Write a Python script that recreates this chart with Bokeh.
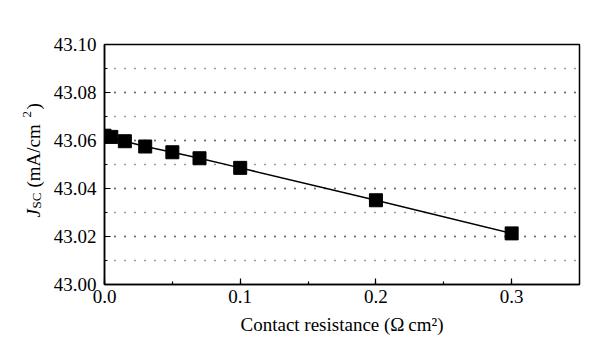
import math
from bokeh.plotting import figure
from bokeh.layouts import row
from bokeh.models import Range1d, SingleIntervalTicker, NumeralTickFormatter, Label
from bokeh.embed import file_html
from bokeh.resources import INLINE

# data
resistance = [0.0, 0.005, 0.015, 0.03, 0.05, 0.07, 0.1, 0.2, 0.3]
jsc = [43.0620, 43.0615, 43.0597, 43.0575, 43.0551, 43.0526, 43.0486, 43.0351, 43.0213]
x_label = "Contact resistance (\u03a9\u2009cm\u00b2)"

FONT = "Liberation Serif"
LEFT_W = 50

p = figure(width=584 - LEFT_W, height=345, output_backend="svg", toolbar_location=None,
           x_range=Range1d(0, 0.35), y_range=Range1d(43.0, 43.1),
           min_border_left=100 - LEFT_W, min_border_right=5, min_border_top=44, min_border_bottom=61)
p.background_fill_color = "white"
p.border_fill_color = "white"
p.outline_line_color = "black"
p.outline_line_width = 1.5

p.line(resistance, jsc, line_color="black", line_width=1.5)
p.scatter(resistance, jsc, marker="square", size=13, fill_color="black", line_color="black")

p.xaxis.ticker = SingleIntervalTicker(interval=0.1, num_minor_ticks=2)
p.xaxis.formatter = NumeralTickFormatter(format="0.0")
p.yaxis.ticker = SingleIntervalTicker(interval=0.02, num_minor_ticks=2)
p.yaxis.formatter = NumeralTickFormatter(format="0.00")

for ax in (p.xaxis, p.yaxis):
    ax.axis_line_color = "black"
    ax.axis_line_width = 1.5
    ax.major_tick_in = 6
    ax.major_tick_out = 0
    ax.minor_tick_in = 3
    ax.minor_tick_out = 0
    ax.major_tick_line_color = "black"
    ax.minor_tick_line_color = "black"
    ax.major_tick_line_width = 1.2
    ax.minor_tick_line_width = 1.2
    ax.major_label_text_font = FONT
    ax.major_label_text_font_size = "19px"
    ax.major_label_text_color = "black"

p.xaxis.major_label_standoff = 5
p.xaxis.axis_label = x_label
p.xaxis.axis_label_text_font = FONT
p.xaxis.axis_label_text_font_size = "19px"
p.xaxis.axis_label_text_font_style = "normal"
p.xaxis.axis_label_text_color = "black"
p.xaxis.axis_label_standoff = 8
p.yaxis.major_label_standoff = 8

# grid
p.xgrid.grid_line_color = None
p.ygrid.grid_line_color = "#333333"
p.ygrid.grid_line_dash = "1 9"
p.ygrid.grid_line_width = 1.3
p.ygrid.minor_grid_line_color = "#333333"
p.ygrid.minor_grid_line_dash = "1 9"
p.ygrid.minor_grid_line_width = 1.3

# narrow side figure carrying the y-axis title (J italic, SC subscript, superscript 2)
side = figure(width=LEFT_W, height=345, output_backend="svg", toolbar_location=None,
              min_border=0, x_range=Range1d(0, 1), y_range=Range1d(0, 1))
side.axis.visible = False
side.grid.visible = False
side.outline_line_color = None
side.background_fill_color = "white"
side.border_fill_color = "white"

base_x = 33
# (text, font size, style, baseline shift, position along the axis)
pieces = [
    ("J", 19, "italic", 0, 67),
    ("SC", 13, "normal", 3, 76),
    ("(mA/cm", 19, "normal", 0, 97),
    ("2", 13, "normal", -7, 167),
    (")", 19, "normal", 0, 175),
]
for txt, fs, style, dx, ypos in pieces:
    side.add_layout(Label(x=base_x + dx, y=ypos, x_units="screen", y_units="screen", text=txt,
                          angle=math.pi / 2, text_font=FONT, text_font_size=f"{fs}px",
                          text_font_style=style, text_align="left", text_baseline="alphabetic",
                          text_color="black"))

layout = row(side, p, spacing=0)
open("out.html", "w").write(file_html(layout, INLINE))
